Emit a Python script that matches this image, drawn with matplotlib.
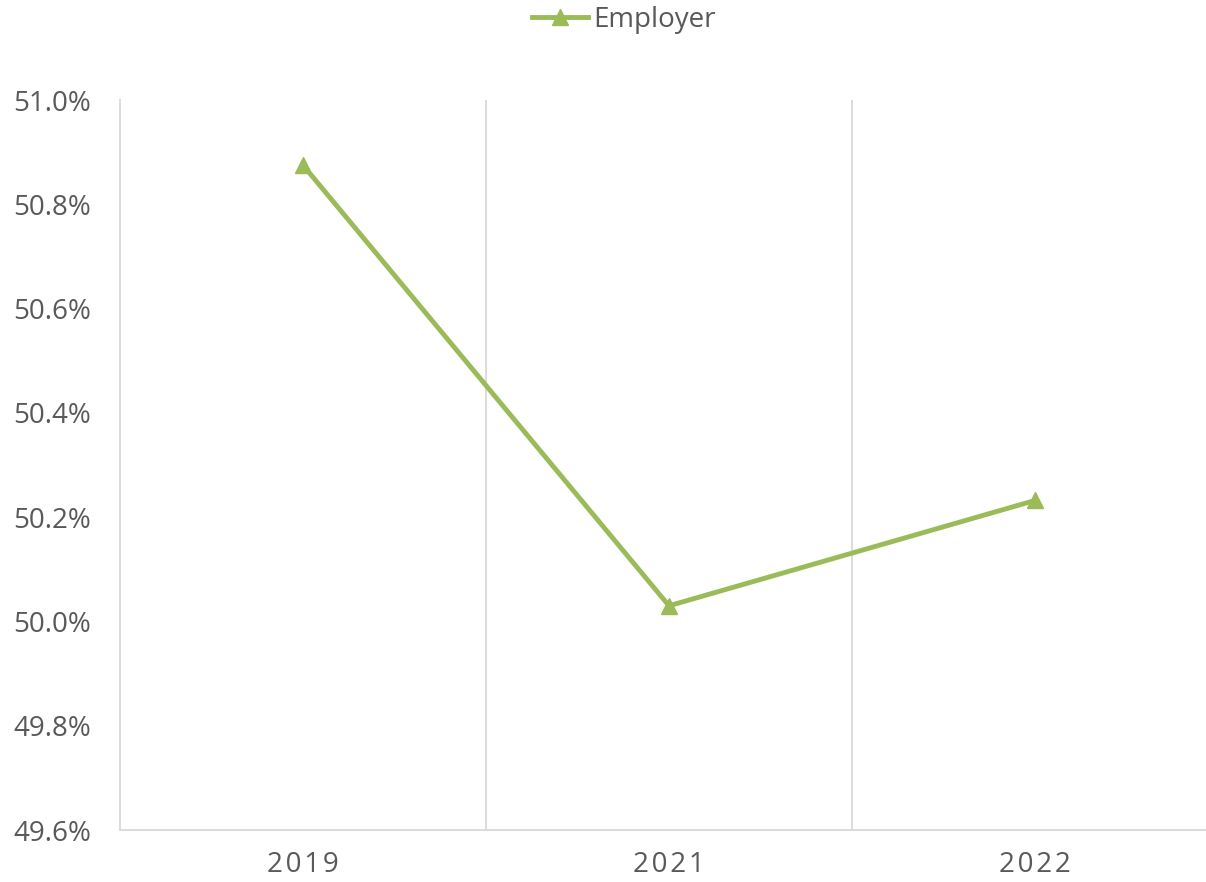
import matplotlib.pyplot as plt
from matplotlib.ticker import FuncFormatter

years = ["2019", "2021", "2022"]
employer = [50.875, 50.03, 50.232]

plt.rcParams['font.family'] = ['Open Sans', 'DejaVu Sans']

fig = plt.figure(figsize=(12.06, 8.82), dpi=100)
# right edge of the plot area runs past the figure edge, as in the reference
ax = fig.add_axes([120 / 1206, 52 / 882, 1098 / 1206, 730 / 882])

x = list(range(len(years)))
ax.plot(x, employer, color='#9BBB59', linewidth=3.5, marker='^', markersize=12,
        label='Employer', clip_on=False)

ax.set_xlim(-0.5, len(years) - 0.5)
ax.set_ylim(49.6, 51.0)
ax.set_yticks([49.6 + 0.2 * i for i in range(8)])
ax.yaxis.set_major_formatter(FuncFormatter(lambda v, p: f"{v:.1f}%"))
ax.set_xticks(x)
ax.set_xticklabels(["\u200a".join(y) for y in years])

# category boundary gridlines
for b in [0.5, 1.5]:
    ax.axvline(b, color='#D9D9D9', linewidth=1.3, zorder=0)

for s in ['top', 'right']:
    ax.spines[s].set_visible(False)
for s in ['left', 'bottom']:
    ax.spines[s].set_color('#D9D9D9')
    ax.spines[s].set_linewidth(1.3)

ax.tick_params(axis='both', length=0, colors='#595959', labelsize=20)
ax.tick_params(axis='x', pad=15)
ax.tick_params(axis='y', pad=21)

leg = ax.legend(loc='center', bbox_to_anchor=(624 / 1206, 1 - 20 / 882),
                bbox_transform=fig.transFigure, frameon=False,
                fontsize=20, labelcolor='#595959', handlelength=2.0,
                handletextpad=0.2)

fig.savefig('out.png', dpi=100)
